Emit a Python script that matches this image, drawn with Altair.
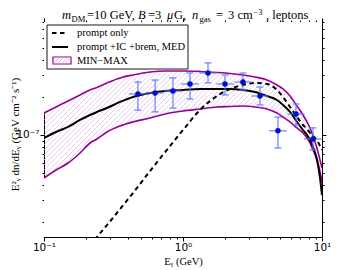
import altair as alt
import numpy as np
import pandas as pd

# ---------------- data ----------------
# energy grid of the model curves (GeV)
E_grid = [0.1, 0.122, 0.149, 0.1816, 0.2143, 0.2404, 0.2838, 0.3524, 0.4365, 0.579,
          0.743, 1.0, 1.325, 1.757, 2.178, 2.70, 3.296, 4.02, 4.745, 5.24,
          5.89, 6.61, 7.30, 7.80, 8.20, 8.61, 9.06, 9.36, 9.68, 10.0]
# curves in units of 1e-7 GeV cm^-2 s^-1
band_max = [1.500, 1.675, 1.871, 2.089, 2.291, 2.399, 2.606, 2.858, 3.020, 3.192,
            3.251, 3.251, 3.221, 3.162, 3.105, 3.020, 2.911, 2.754, 2.512, 2.333,
            2.051, 1.706, 1.445, 1.271, 1.138, 0.982, 0.832, 0.731, 0.631, 0.545]
band_min = [0.453, 0.525, 0.597, 0.718, 0.863, 0.929, 1.057, 1.180, 1.271, 1.368,
            1.472, 1.556, 1.614, 1.675, 1.690, 1.706, 1.675, 1.614, 1.500, 1.393,
            1.271, 1.138, 1.038, 0.946, 0.863, 0.759, 0.667, 0.597, 0.506, 0.421]
med = [0.946, 1.057, 1.159, 1.318, 1.445, 1.528, 1.644, 1.837, 2.014, 2.168,
       2.249, 2.291, 2.333, 2.333, 2.333, 2.291, 2.208, 2.051, 1.905, 1.738,
       1.528, 1.271, 1.096, 1.000, 0.912, 0.802, 0.679, 0.575, 0.453, 0.331]
E_prompt = [0.2143, 0.2404, 0.2838, 0.3524, 0.4365, 0.579, 0.743, 1.0, 1.325, 1.757,
            2.178, 2.70, 3.296, 4.02, 4.745, 5.24, 5.89, 6.61, 7.30, 7.80,
            8.20, 8.61, 9.06, 9.36, 9.68, 10.0]
prompt = [0.1294, 0.1528, 0.1905, 0.2559, 0.3436, 0.5152, 0.7311, 1.096, 1.585, 2.051,
          2.333, 2.512, 2.606, 2.559, 2.291, 2.014, 1.675, 1.393, 1.202, 1.117,
          1.038, 0.982, 0.929, 0.879, 0.817, 0.759]

# measured points (GeV, and 1e-7 GeV cm^-2 s^-1)
E_data = [0.474, 0.630, 0.847, 1.123, 1.513, 2.005, 2.70, 3.58, 4.82, 6.50, 8.61]
E_low = [0.410, 0.545, 0.733, 0.971, 1.309, 1.734, 2.336, 3.097, 4.170, 5.623, 7.448]
E_high = [0.548, 0.728, 0.979, 1.298, 1.749, 2.318, 3.121, 4.138, 5.572, 7.514, 9.953]
F_data = [2.13, 2.17, 2.25, 2.56, 3.13, 2.56, 2.65, 2.05, 1.08, 1.47, 0.929]
F_low = [1.58, 1.53, 1.64, 1.94, 2.61, 2.09, 2.29, 1.74, 0.787, 1.20, 0.759]
F_high = [2.65, 2.75, 2.86, 3.13, 3.77, 3.02, 3.13, 2.42, 1.39, 1.77, 1.14]

UNIT = 1e-7
X_DOMAIN = [0.1, 10.0]
Y_DOMAIN = [1.53e-8, 8.0e-7]
x_ticks = [m * 10.0 ** e for e in (-1, 0) for m in range(1, 10)] + [10.0]
y_ticks = [m * 1e-8 for m in range(2, 10)] + [1e-7] + [m * 1e-7 for m in range(2, 9)]

# ---------------- style ----------------
W, H = 278, 215
PURPLE = "#970097"
HATCH = "#e0b4e0"
ERR = "#5a78ff"
PT = "#0010c8"
SERIF = "Liberation Serif"
SANS = "DejaVu Sans"

curves = pd.DataFrame({
    "E": E_grid,
    "hi": [v * UNIT for v in band_max],
    "lo": [v * UNIT for v in band_min],
    "med": [v * UNIT for v in med],
})
prompt_df = pd.DataFrame({"E": E_prompt, "F": [v * UNIT for v in prompt]})
pts = pd.DataFrame({
    "E": E_data, "Elo": E_low, "Ehi": E_high,
    "F": [v * UNIT for v in F_data],
    "Flo": [v * UNIT for v in F_low],
    "Fhi": [v * UNIT for v in F_high],
})
caps = pd.concat([
    pd.DataFrame({"E": E_data, "F": [v * UNIT for v in F_low]}),
    pd.DataFrame({"E": E_data, "F": [v * UNIT for v in F_high]}),
])

# hatch pattern ("/" at 45 degrees on screen) as decoration
dec_x = np.log10(X_DOMAIN[1]) - np.log10(X_DOMAIN[0])
dec_y = np.log10(Y_DOMAIN[1]) - np.log10(Y_DOMAIN[0])
px_per_dec_x = W / dec_x
px_per_dec_y = H / dec_y
slope = px_per_dec_x / px_per_dec_y
step = 5.0 / px_per_dec_y
rows = []
for k, c in enumerate(np.arange(np.log10(Y_DOMAIN[0]) - slope * dec_x, np.log10(Y_DOMAIN[1]), step)):
    rows.append({"k": k, "E": X_DOMAIN[0], "F": 10 ** c})
    rows.append({"k": k, "E": X_DOMAIN[1], "F": 10 ** (c + slope * dec_x)})
hatch_df = pd.DataFrame(rows)

xs = alt.Scale(type="log", domain=X_DOMAIN, nice=False)
ys = alt.Scale(type="log", domain=Y_DOMAIN, nice=False)

x_major = "datum.value == 0.1 || datum.value == 1 || datum.value == 10"
y_major = "datum.value == 1e-7"
tick_x = {"condition": {"test": x_major, "value": 4}, "value": 2}
tick_y = {"condition": {"test": y_major, "value": 4}, "value": 2}

x_axis = alt.Axis(values=x_ticks, tickSize=tick_x, labelOverlap=False, labelFlush=False,
                  labelExpr="datum.value == 0.1 ? '10⁻¹' : datum.value == 1 ? '10⁰' : datum.value == 10 ? '10¹' : ''",
                  title="Eᵧ (GeV)", titleFont=SERIF, titleFontSize=10.5, titleFontWeight="normal",
                  titleY=24, titleBaseline="middle",
                  labelFont=SANS, labelFontSize=10.5, labelColor="black", labelPadding=1,
                  domainColor="black", tickColor="black", grid=False)
y_axis = alt.Axis(values=y_ticks, tickSize=tick_y, labelOverlap=False, labelFlush=False,
                  labelExpr="datum.value == 1e-7 ? '10⁻⁷' : ''",
                  title="E²ᵧ dn/dEᵧ (GeV cm⁻² s⁻¹)", titleFont=SERIF, titleFontSize=11,
                  titleFontWeight="normal", titleX=-29, titleY=112, titleAngle=270,
                  titleBaseline="middle", titleAlign="center",
                  labelFont=SANS, labelFontSize=10.5, labelColor="black", labelPadding=1,
                  domainColor="black", tickColor="black", grid=False)
x_top = alt.Axis(orient="top", values=x_ticks, tickSize=tick_x, labels=False, title=None,
                 domainColor="black", tickColor="black", grid=False)
y_right = alt.Axis(orient="right", values=y_ticks, tickSize=tick_y, labels=False, title=None,
                   domainColor="black", tickColor="black", grid=False)

hatch = alt.Chart(hatch_df).mark_line(color=HATCH, strokeWidth=0.65, clip=True).encode(
    x=alt.X("E:Q", scale=xs, axis=x_axis),
    y=alt.Y("F:Q", scale=ys, axis=y_axis),
    detail="k:N",
)
mask_top = alt.Chart(curves).mark_area(color="white", fill="white", opacity=1,
                                       interpolate="monotone", clip=True).encode(
    x=alt.X("E:Q", scale=xs, axis=x_top),
    y=alt.Y("hi:Q", scale=ys, axis=y_right, stack=None),
    y2=alt.datum(Y_DOMAIN[1]),
)
mask_bot = alt.Chart(curves).mark_area(color="white", fill="white", opacity=1,
                                       interpolate="monotone", clip=True).encode(
    x=alt.X("E:Q", scale=xs, axis=None),
    y=alt.Y("lo:Q", scale=ys, axis=None, stack=None),
    y2=alt.datum(Y_DOMAIN[0]),
)
edge_hi = alt.Chart(curves).mark_line(color=PURPLE, strokeWidth=1.6, interpolate="monotone", clip=True).encode(
    x=alt.X("E:Q", scale=xs, axis=None), y=alt.Y("hi:Q", scale=ys, axis=None))
edge_lo = alt.Chart(curves).mark_line(color=PURPLE, strokeWidth=1.6, interpolate="monotone", clip=True).encode(
    x=alt.X("E:Q", scale=xs, axis=None), y=alt.Y("lo:Q", scale=ys, axis=None))
dashed = alt.Chart(prompt_df).mark_line(color="black", strokeWidth=2, strokeDash=[4.5, 3.5],
                                        interpolate="monotone", clip=True).encode(
    x=alt.X("E:Q", scale=xs, axis=None), y=alt.Y("F:Q", scale=ys, axis=None))
solid = alt.Chart(curves).mark_line(color="black", strokeWidth=2, interpolate="monotone", clip=True).encode(
    x=alt.X("E:Q", scale=xs, axis=None), y=alt.Y("med:Q", scale=ys, axis=None))
xerr = alt.Chart(pts).mark_rule(color=ERR, strokeWidth=1.3, opacity=0.85).encode(
    x=alt.X("Elo:Q", scale=xs, axis=None), x2="Ehi:Q", y=alt.Y("F:Q", scale=ys, axis=None))
yerr = alt.Chart(pts).mark_rule(color=ERR, strokeWidth=1.3, opacity=0.85).encode(
    x=alt.X("E:Q", scale=xs, axis=None), y=alt.Y("Flo:Q", scale=ys, axis=None), y2="Fhi:Q")
capm = alt.Chart(caps).mark_tick(color=ERR, orient="horizontal", size=7, thickness=1.3, opacity=0.85).encode(
    x=alt.X("E:Q", scale=xs, axis=None), y=alt.Y("F:Q", scale=ys, axis=None))
points = alt.Chart(pts).mark_point(filled=True, size=30, color=PT, opacity=1).encode(
    x=alt.X("E:Q", scale=xs, axis=None), y=alt.Y("F:Q", scale=ys, axis=None))

one = pd.DataFrame({"a": [0]})
leg_box = alt.Chart(one).mark_rect(fill="white", stroke="black", strokeWidth=0.9).encode(
    x=alt.value(3), x2=alt.value(144), y=alt.value(3), y2=alt.value(47))
leg_dash = alt.Chart(one).mark_rule(color="black", strokeWidth=2, strokeDash=[4.5, 3.5]).encode(
    x=alt.value(8), x2=alt.value(24), y=alt.value(11))
leg_solid = alt.Chart(one).mark_rule(color="black", strokeWidth=2).encode(
    x=alt.value(8), x2=alt.value(24), y=alt.value(25))
leg_patch = alt.Chart(one).mark_rect(fill="white", stroke=PURPLE, strokeWidth=1.2).encode(
    x=alt.value(9), x2=alt.value(27), y=alt.value(35), y2=alt.value(42))
leg_hatch = [
    alt.Chart(one).mark_rule(color=HATCH, strokeWidth=0.8).encode(
        x=alt.value(x0), x2=alt.value(x0 + 6), y=alt.value(41.5), y2=alt.value(35.5))
    for x0 in (9.5, 13.5, 17.5, 21)
]
leg_texts = [
    alt.Chart(one).mark_text(align="left", baseline="middle", font=SERIF, fontSize=10.5, color="black").encode(
        x=alt.value(33), y=alt.value(yy), text=alt.value(t))
    for t, yy in (("prompt only", 11), ("prompt +IC +brem, MED", 25), ("MIN−MAX", 39))
]

# title pieces: (text, x, y-offset, size, style)
title_parts = [
    ("m", 18, 0, 12.5, "italic"),
    ("DM", 27.5, 3, 8.5, "normal"),
    ("=10 GeV,", 43, 0, 12.5, "normal"),
    ("B", 94, 0, 12.5, "italic"),
    ("=3", 104, 0, 12.5, "normal"),
    ("μ", 123, 0, 12.5, "italic"),
    ("G,", 130, 0, 12.5, "normal"),
    ("n", 148, 0, 12.5, "italic"),
    ("gas", 155.5, 3, 8.5, "normal"),
    ("=", 172, 0, 12.5, "normal"),
    ("3 cm", 184, 0, 12.5, "normal"),
    ("−3", 209.5, -4, 8.5, "normal"),
    (", leptons", 222, 0, 12.5, "normal"),
]
title_marks = [
    alt.Chart(one).mark_text(align="left", baseline="alphabetic", font=SERIF, fontSize=s,
                             fontStyle=st, color="black").encode(
        x=alt.value(xx), y=alt.value(-3.5 + dy), text=alt.value(t))
    for t, xx, dy, s, st in title_parts
]

chart = alt.layer(
    hatch, mask_top, mask_bot, edge_hi, edge_lo, dashed, solid,
    xerr, yerr, capm, points,
    leg_box, leg_dash, leg_solid, leg_patch, *leg_hatch, *leg_texts, *title_marks,
).resolve_axis(x="independent", y="independent").properties(
    width=W, height=H,
    autosize=alt.AutoSizeParams(type="none"),
    padding={"left": 36, "top": 14, "right": 28, "bottom": 32},
).configure_view(stroke="black", strokeWidth=1).configure(background="white")

chart.save("out.html", embed_options={"renderer": "svg", "actions": False})
